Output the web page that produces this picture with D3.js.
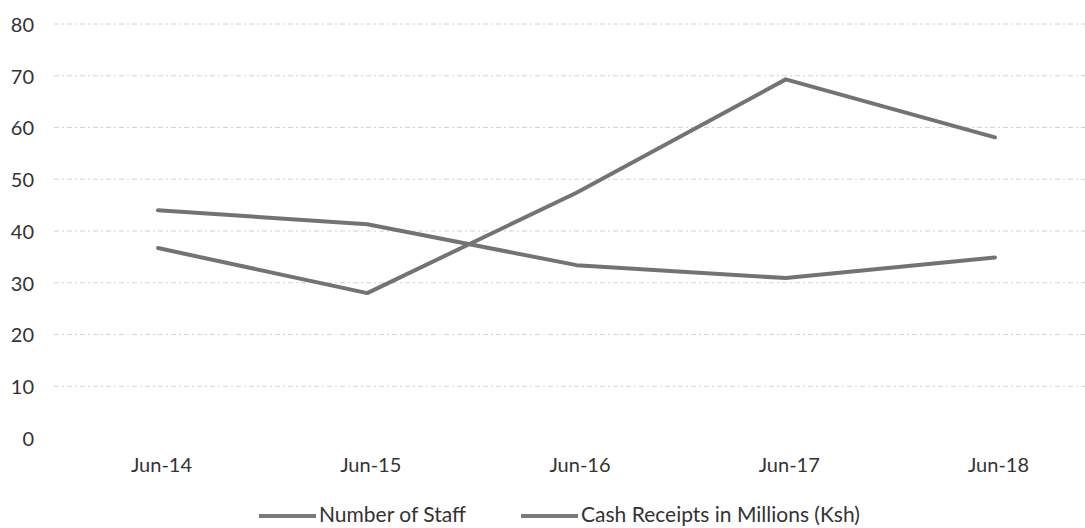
<!DOCTYPE html>
<html>
<head>
<meta charset="utf-8">
<script src="https://cdn.jsdelivr.net/npm/d3@7"></script>
<style>
    body { margin: 0; background: #fff; }
    svg { display: block; font-family: Lato, "Open Sans", sans-serif; }
</style>
</head>
<body>
<script>
var categories = ["Jun-14", "Jun-15", "Jun-16", "Jun-17", "Jun-18"];
var staff = [44, 41.3, 33.4, 30.9, 34.9];
var cash = [36.7, 28, 47.4, 69.3, 58.1];
var yTicks = [0, 10, 20, 30, 40, 50, 60, 70, 80];
var seriesNames = ["Number of Staff", "Cash Receipts in Millions (Ksh)"];

(function () {
    var width = 1085,
        height = 528;
    var margin = {top: 24, left: 54, bottom: 90};

    var svg = d3.select("body").append("svg")
        .attr("width", width)
        .attr("height", height);

    // band is wider than the page on the right, the picture was cropped there
    var x = d3.scalePoint()
        .domain(categories)
        .range([158, 995]);

    var y = d3.scaleLinear()
        .domain([0, 80])
        .range([438, margin.top]);

    // grid
    svg.append("g")
        .selectAll("line")
        .data(yTicks.filter(function (d) { return d > 0; }))
        .enter().append("line")
        .attr("x1", margin.left)
        .attr("x2", width)
        .attr("y1", function (d) { return y(d); })
        .attr("y2", function (d) { return y(d); })
        .attr("stroke", "#d2d2d2")
        .attr("stroke-width", 1)
        .attr("stroke-dasharray", "5,3,2,3");

    // y axis labels
    var yAxis = d3.axisLeft(y).tickValues(yTicks).tickSize(0).tickPadding(0);
    svg.append("g")
        .attr("transform", "translate(34,1)")
        .call(yAxis)
        .call(function (g) {
            g.select(".domain").remove();
            g.selectAll("text")
                .attr("font-size", 20)
                .attr("font-family", "Lato, 'Open Sans', sans-serif")
                .attr("fill", "#333");
        });

    // x axis labels
    var xAxis = d3.axisBottom(x).tickSize(0).tickPadding(0);
    svg.append("g")
        .attr("transform", "translate(3,458)")
        .call(xAxis)
        .call(function (g) {
            g.select(".domain").remove();
            g.selectAll("text")
                .attr("font-size", 20)
                .attr("font-family", "Lato, 'Open Sans', sans-serif")
                .attr("fill", "#333");
        });

    var line = d3.line()
        .x(function (d, i) { return x(categories[i]); })
        .y(function (d) { return y(d); });

    [staff, cash].forEach(function (s) {
        svg.append("path")
            .datum(s)
            .attr("d", line)
            .attr("fill", "none")
            .attr("stroke", "#737373")
            .attr("stroke-width", 4)
            .attr("stroke-linejoin", "round")
            .attr("stroke-linecap", "round");
    });

    // legend
    var legendX = [259, 521];
    var legend = svg.append("g")
        .selectAll("g")
        .data(seriesNames)
        .enter().append("g")
        .attr("transform", function (d, i) { return "translate(" + legendX[i] + ",516)"; });

    legend.append("line")
        .attr("x1", 0)
        .attr("x2", 57)
        .attr("stroke", "#7a7a7a")
        .attr("stroke-width", 4);

    legend.append("text")
        .attr("x", 60)
        .attr("dy", "0.3em")
        .attr("font-size", 21)
        .attr("fill", "#333")
        .text(function (d) { return d; });
}());
</script>
</body>
</html>
